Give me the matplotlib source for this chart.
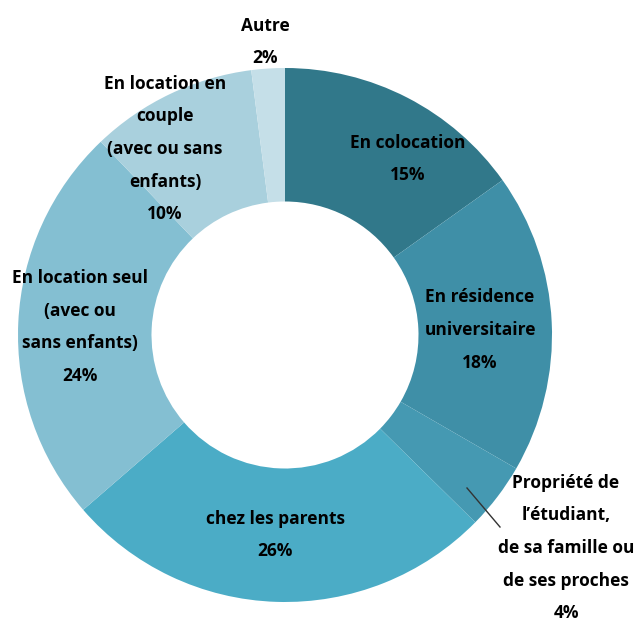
import matplotlib
matplotlib.use("Agg")
import matplotlib.pyplot as plt

categories = ["En colocation", "En résidence\nuniversitaire", "Propriété de\nl\u2019étudiant,\nde sa famille ou\nde ses proches",
              "chez les parents", "En location seul\n(avec ou\nsans enfants)", "En location en\ncouple\n(avec ou sans\nenfants)", "Autre"]
values = [15, 18, 4, 26, 24, 10, 2]
colors = ["#31788A", "#3F8FA7", "#4599B2", "#4BACC6", "#84BFD2", "#A9D0DD", "#C5DFE8"]

# label anchor positions (image pixel coords: x, y of label text centre)
label_pos = [(408, 159), (480, 330), (566, 548), (275, 535), (80, 327), (165, 149), (265, 42)]

W, H = 640, 625
fig = plt.figure(figsize=(W / 100, H / 100), dpi=100)
ax = fig.add_axes([0, 0, 1, 1])

cx, cy, R = 285, H - 335, 267
ax.pie(values, colors=colors, startangle=90, counterclock=False, center=(cx, cy), radius=R,
       wedgeprops=dict(width=R * 0.5, linewidth=0), frame=True)
ax.set_xlim(0, W)
ax.set_ylim(0, H)
ax.axis("off")

for cat, v, (x, y) in zip(categories, values, label_pos):
    ax.text(x, H - y, f"{cat}\n{v}%", ha="center", va="center", fontsize=12.5, fontweight="bold",
            family=["Open Sans", "DejaVu Sans"], linespacing=2.05, color="black")

# leader line for small slice
ax.plot([467, 500], [H - 488, H - 527], color="#333333", linewidth=1)

fig.savefig("out.png", dpi=100)
